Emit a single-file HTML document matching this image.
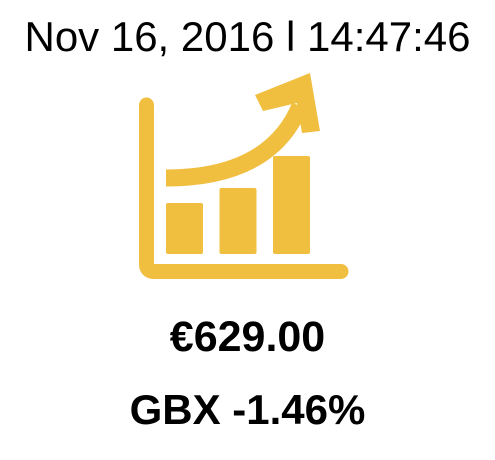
<!DOCTYPE html>
<html><head><meta charset="utf-8"><style>
body{margin:0;width:495px;height:460px;background:#fff;overflow:hidden;font-family:"Liberation Sans",Arial,sans-serif;position:relative}
.t{position:absolute;left:0;width:495px;text-align:center;color:#000;white-space:nowrap}
</style></head><body>
<div class="t" style="top:13px;font-size:42px;">Nov 16, 2016 l 14:47:46</div>
<svg width="495" height="460" style="position:absolute;left:0;top:0">
<g id="icon" fill="#f0bf40">
<path d="M146.5 105 V264 Q146.5 271.5 154 271.5 H341" stroke="#f0bf40" stroke-width="15" fill="none" stroke-linecap="round"/>
<path d="M166 178 Q270 178 300 106" stroke="#f0bf40" stroke-width="17" fill="none"/>
<polygon points="255,95 310,73 320,131 302,133 297,103 263,111"/>
</g>
</svg>
<div class="t" style="top:313px;font-size:43px;font-weight:bold;">€629.00</div>
<div class="t" style="top:386px;font-size:42px;font-weight:bold;">GBX -1.46%</div>
<script>
const barLabels=["b1","b2","b3"];
const barValues=[51,66,98];
const g=document.getElementById('icon');
const baseY=254, scale=1, x0=166, step=53.5, w=37;
barValues.forEach((v,i)=>{
  const r=document.createElementNS('http://www.w3.org/2000/svg','rect');
  
  
  r.setAttribute('x',x0+i*step);r.setAttribute('y',baseY-v*scale);
  r.setAttribute('width',w);r.setAttribute('height',v*scale);r.setAttribute('rx',2);
  g.appendChild(r);
});
</script>
</body></html>
